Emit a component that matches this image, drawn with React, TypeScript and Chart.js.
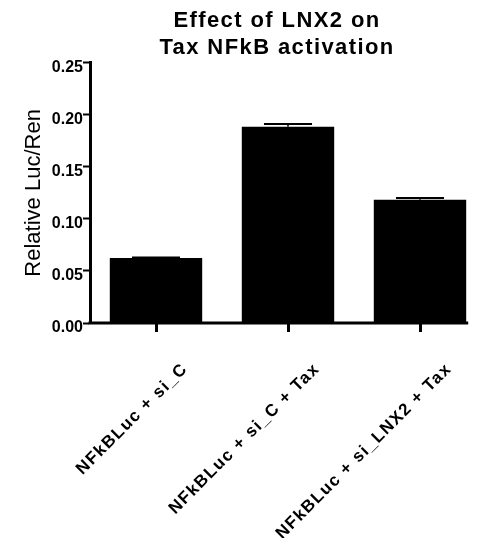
import React, { useEffect, useRef } from 'react';
import { Chart, registerables } from 'chart.js';

Chart.register(...registerables);

const TITLE_LINES = ['Effect of LNX2 on', 'Tax NFkB activation'];
const Y_TITLE = 'Relative Luc/Ren';
const CATEGORIES = ['NFkBLuc + si_C', 'NFkBLuc + si_C + Tax', 'NFkBLuc + si_LNX2 + Tax'];
const MEANS = [0.0625, 0.1885, 0.1183];
const ERRORS = [0.0004, 0.0028, 0.0019];
const Y_TICKS = [0, 0.05, 0.1, 0.15, 0.2, 0.25];

const FONT = "'Liberation Sans', Arial, Helvetica, sans-serif";

function withSpacing(ctx: any, spacing: string, fn: () => void) {
  const prev = ctx.letterSpacing;
  ctx.letterSpacing = spacing;
  try {
    fn();
  } finally {
    ctx.letterSpacing = prev || '0px';
  }
}

const spacingPlugin = {
  id: 'spacingPlugin',
  afterLayout(chart: any) {
    const tb = chart.titleBlock;
    if (tb) {
      tb.left = 2 * 277 - tb.right;
      if (!tb.__patched) {
        const orig = tb.draw.bind(tb);
        tb.draw = (a: any) => withSpacing(chart.ctx, '1.4px', () => orig(a));
        tb.__patched = true;
      }
    }
    const sx = chart.scales.x;
    if (sx && !sx.__patched) {
      const orig = sx.drawLabels.bind(sx);
      sx.drawLabels = (a: any) => withSpacing(chart.ctx, '1.4px', () => orig(a));
      sx.__patched = true;
    }
  },
};

const errorBarPlugin = {
  id: 'errorBarPlugin',
  afterDatasetsDraw(chart: any) {
    const meta = chart.getDatasetMeta(0);
    const y = chart.scales.y;
    const ctx = chart.ctx;
    ctx.save();
    ctx.strokeStyle = '#000';
    meta.data.forEach((bar: any, i: number) => {
      const top = y.getPixelForValue(MEANS[i] + ERRORS[i]);
      const base = y.getPixelForValue(MEANS[i]);
      const half = bar.width * 0.26;
      ctx.lineWidth = 1.5;
      ctx.beginPath();
      ctx.moveTo(bar.x, base);
      ctx.lineTo(bar.x, top);
      ctx.stroke();
      ctx.lineWidth = 2;
      ctx.beginPath();
      ctx.moveTo(bar.x - half, top);
      ctx.lineTo(bar.x + half, top);
      ctx.stroke();
    });
    // x axis line, ending just past the last bar as in the reference
    const last = meta.data[meta.data.length - 1];
    const ca = chart.chartArea;
    ctx.lineWidth = 3;
    ctx.beginPath();
    ctx.moveTo(ca.left - 1.5, ca.bottom);
    ctx.lineTo(last.x + last.width / 2 + 2, ca.bottom);
    ctx.stroke();
    ctx.restore();
  },
};

export default function App() {
  const ref = useRef<HTMLCanvasElement>(null);

  useEffect(() => {
    document.body.style.margin = '0';
    if (!ref.current) return;
    const chart = new Chart(ref.current, {
      type: 'bar',
      data: {
        labels: CATEGORIES,
        datasets: [
          {
            data: MEANS,
            backgroundColor: '#000',
            borderWidth: 0,
            barPercentage: 0.7,
            categoryPercentage: 1,
          },
        ],
      },
      options: {
        animation: false,
        responsive: false,
        devicePixelRatio: 1,
        layout: { padding: { left: 0, right: 2, top: 0, bottom: 0 } },
        plugins: {
          legend: { display: false },
          tooltip: { enabled: false },
          title: {
            display: true,
            text: TITLE_LINES,
            color: '#000',
            font: { family: FONT, size: 22, weight: 'bold', lineHeight: 1.2 },
            padding: { top: 8, bottom: 2 },
          },
        },
        scales: {
          x: {
            type: 'category',
            offset: true,
            grid: {
              display: true,
              drawOnChartArea: false,
              drawTicks: true,
              tickLength: 9,
              tickWidth: 3,
              tickColor: '#000',
              offset: false,
            },
            border: { display: false },
            ticks: {
              color: '#000',
              font: { family: FONT, size: 17, weight: 'bold', lineHeight: 1.2 },
              minRotation: 45,
              maxRotation: 45,
              autoSkip: false,
              padding: 27,
              labelOffset: 29,
            },
            afterFit(s: any) {
              s.height = 215;
            },
          },
          y: {
            min: 0,
            max: 0.25,
            afterBuildTicks(s: any) {
              s.ticks = Y_TICKS.map((v) => ({ value: v }));
            },
            ticks: {
              callback: (v: any) => Number(v).toFixed(2),
              color: '#000',
              font: { family: FONT, size: 16, weight: 'bold', lineHeight: 1.2 },
              padding: 0,
              labelOffset: 5,
            },
            grid: {
              drawOnChartArea: false,
              drawTicks: true,
              tickLength: 7,
              tickWidth: 2,
              tickColor: '#000',
            },
            border: { display: true, color: '#000', width: 3 },
            title: {
              display: true,
              text: Y_TITLE,
              color: '#000',
              font: { family: FONT, size: 22, weight: 'normal', lineHeight: 1.2 },
              padding: { top: 21, bottom: 0 },
            },
            afterFit(s: any) {
              s.width = 90;
            },
          },
        },
      } as any,
      plugins: [spacingPlugin, errorBarPlugin],
    });
    return () => chart.destroy();
  }, []);

  return (
    <div style={{ width: 488, height: 538 }}>
      <canvas ref={ref} width={488} height={538} style={{ display: 'block' }} />
    </div>
  );
}
